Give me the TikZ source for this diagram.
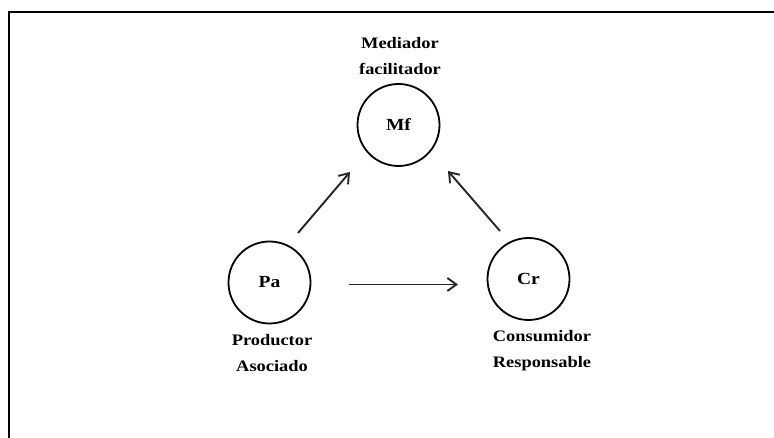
\documentclass[tikz,border=0pt]{standalone}
\usepackage{fontspec}
\setmainfont{Liberation Serif}[FakeStretch=1.15]
\usetikzlibrary{arrows.meta}
\tikzset{
  actor/.style={circle, draw=black, line width=1.8pt, minimum size=82pt, inner sep=0pt, font=\bfseries\fontsize{17}{19}\selectfont},
  lbl/.style={align=center, font=\bfseries\fontsize{16}{26}\selectfont, inner sep=0pt},
  flow/.style={draw=black!85, line width=1.9pt, -{Straight Barb[length=9pt,width=13pt,line width=1.9pt]}},
  frame/.style={line width=2pt, draw=black}
}
\begin{document}
\begin{tikzpicture}[x=1pt,y=-1pt]
\useasboundingbox (0,0) rectangle (774,438);
\coordinate (tl) at (8.5,12.5);
\coordinate (tr) at (774,12.5);
\coordinate (bl) at (8.5,438);
\draw[frame] (tr) -- (tl) -- (bl);
\node[actor] (mf) at (398.5,125) {Mf};
\node[actor] (pa) at (269.5,282.5) {Pa};
\node[actor] (cr) at (528.5,279) {Cr};
\node[lbl] (mfl) at (400,56) {Mediador\\facilitador};
\node[lbl] (pal) at (272,353) {Productor\\Asociado};
\node[lbl] (crl) at (542,351) {Consumidor\\Responsable};
\coordinate (a1s) at (298,233);
\coordinate (a1e) at (350,172);
\coordinate (a2s) at (500,231);
\coordinate (a2e) at (448,171);
\coordinate (a3s) at (349,284.5);
\coordinate (a3e) at (458,284.5);
\draw[flow] (a1s) -- (a1e);
\draw[flow] (a2s) -- (a2e);
\draw[flow] (a3s) -- (a3e);
\end{tikzpicture}
\end{document}
